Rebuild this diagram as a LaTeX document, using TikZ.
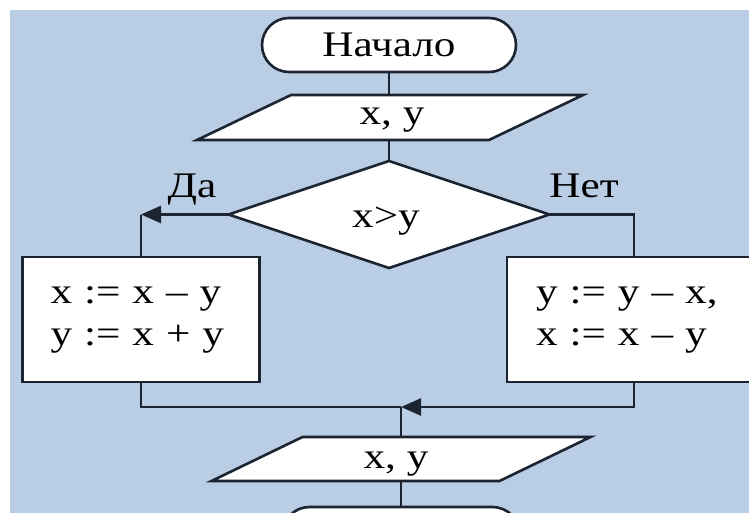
\documentclass[tikz,border=0pt]{standalone}
\usepackage{fontspec}
\setmainfont{Liberation Serif}[FakeStretch=1.2]
\usetikzlibrary{arrows.meta,shapes.geometric,shapes.misc}
\definecolor{bgblue}{RGB}{185,205,228}
\definecolor{ink}{RGB}{28,36,50}
\tikzset{
  big/.style={font=\fontsize{36}{42}\selectfont},
  conn/.style={draw=ink, line width=2.6pt},
  arr/.style={conn, -{Triangle[length=20pt,width=17pt]}},
  shp/.style={draw=ink, fill=white, line width=2.6pt},
  term/.style={shp, rounded rectangle, big, minimum width=254pt, minimum height=54pt, inner sep=0pt, outer sep=0pt},
  dec/.style={shp, diamond, big, minimum width=321pt, minimum height=107pt, inner sep=0pt, outer sep=0pt},
  proc/.style={shp, rectangle, big, align=left, inner xsep=28pt, inner ysep=0pt, outer sep=0pt, minimum height=125pt},
  iobox/.style={rectangle, inner sep=0pt, outer sep=0pt},
  lbl/.style={big, inner sep=0pt, anchor=base},
}
\begin{document}
\begin{tikzpicture}[x=1pt,y=-1pt]
\useasboundingbox (0,0) rectangle (749,513);
\clip (0,0) rectangle (749,513);
\fill[white] (0,0) rectangle (749,513);
\fill[bgblue] (10,10) rectangle (749,513);

% start
\node[term] (start) at (389,45) {Начало};

% input parallelogram
\node[iobox, minimum width=292pt, minimum height=45pt] (in1) at (390,117.5) {};
\draw[shp] ([xshift=-47pt]in1.south west) -- ([xshift=-47pt]in1.south east)
  -- ([xshift=47pt]in1.north east) -- ([xshift=47pt]in1.north west) -- cycle;
\node[lbl] (in1t) at (392,125) {x, y};

% decision
\node[dec] (dec) at (389,214.5) {};
\node[lbl] (dect) at (386,227) {x>y};

% process boxes
\node[proc, text width=181pt] (lbox) at (141,319.5) {x := x – y\\y := x + y};
\node[proc, text width=196pt, inner xsep=29pt] (rbox) at (634,319.5) {y := y – x,\\x := x – y};

% output parallelogram
\node[iobox, minimum width=288pt, minimum height=44pt] (out) at (401,459) {};
\draw[shp] ([xshift=-45.5pt]out.south west) -- ([xshift=-45.5pt]out.south east)
  -- ([xshift=45.5pt]out.north east) -- ([xshift=45.5pt]out.north west) -- cycle;
\node[lbl] (outt) at (396,468) {x, y};

% end terminator (cut off)
\node[term, minimum width=237pt] (fin) at (401,534) {};

% labels
\node[lbl] (yes) at (192,197) {Да};
\node[lbl] (no) at (584,197) {Нет};

% connectors
\coordinate (cl) at (lbox.north |- dec.west);
\coordinate (cr) at (rbox.north |- dec.east);
\coordinate (jn) at (out.north |- 0,407);
\draw[conn] (start.south) -- (start.south |- in1.north);
\draw[conn] (dec.north |- in1.south) -- (dec.north);
\draw[arr] (dec.west) -- (cl);
\draw[conn] (cl) -- (lbox.north);
\draw[conn] (dec.east) -- (cr) -- (rbox.north);
\draw[conn] (lbox.south) |- (jn);
\draw[arr] (rbox.south) |- (jn);
\draw[conn] (jn) -- (out.north);
\draw[conn] (out.south) -- (fin.north);
\end{tikzpicture}
\end{document}
